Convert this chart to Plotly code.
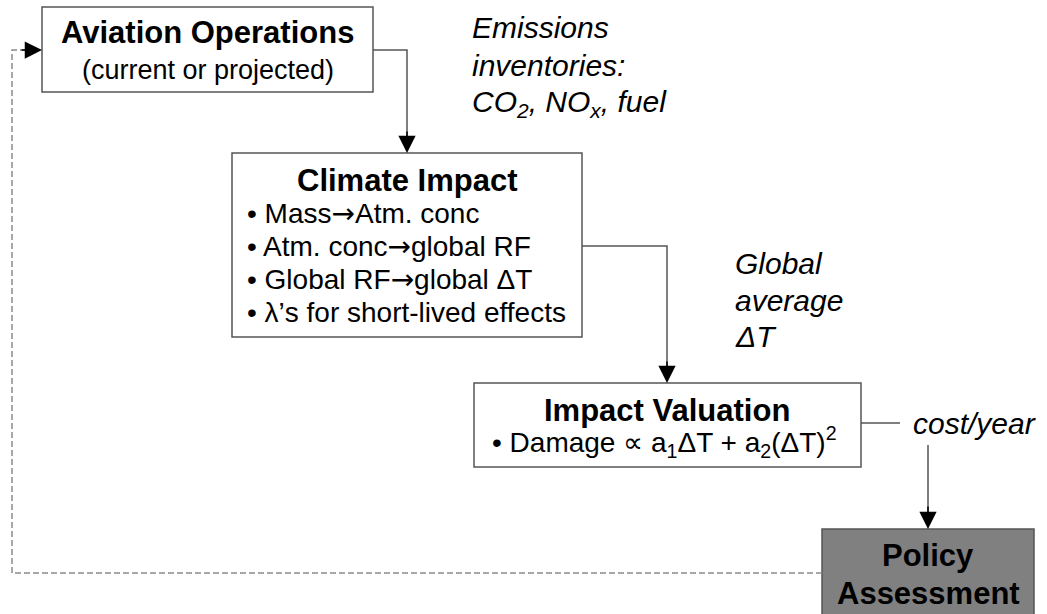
import plotly.graph_objects as go

W, H = 1047, 614
FONT = "Arial, Liberation Sans, sans-serif"
EDGE = "#555555"
DASH = "#8c8c8c"
ARROW = '<span style="font-family:DejaVu Sans">→</span>'

# boxes: x0, y0, x1, y1, fill
box_names = ["aviation", "climate", "valuation", "policy"]
box_x0 = [42, 232, 474, 822]
box_y0 = [7, 153, 383, 529]
box_x1 = [373, 582, 861, 1034]
box_y1 = [92, 337, 467, 640]
box_fill = ["white", "white", "white", "#808080"]

# text lines: text, x, y, size, anchor
texts = [
    ("<b>Aviation Operations</b>", 207.5, 32, 31, "center"),
    ("(current or projected)", 207.5, 70, 27, "center"),
    ("<i>Emissions</i>", 470, 27, 30, "left"),
    ("<i>inventories:</i>", 470, 65, 30, "left"),
    ("<i>CO<sub>2</sub>, NO<sub>x</sub>, fuel</i>", 470, 103, 30, "left"),
    ("<b>Climate Impact</b>", 407, 180, 31, "center"),
    ("• Mass" + ARROW + "Atm. conc", 245, 213, 28, "left"),
    ("• Atm. conc" + ARROW + "global RF", 245, 246, 28, "left"),
    ("• Global RF" + ARROW + "global ΔT", 245, 279, 28, "left"),
    ("• λ’s for short-lived effects", 245, 312, 28, "left"),
    ("<i>Global</i>", 733, 263, 30, "left"),
    ("<i>average</i>", 733, 300, 30, "left"),
    ("<i>ΔT</i>", 733, 336, 30, "left"),
    ("<b>Impact Valuation</b>", 667, 410, 31, "center"),
    ("• Damage ∝ a<sub>1</sub>ΔT + a<sub>2</sub>(ΔT)<sup>2</sup>", 490, 442, 28, "left"),
    ("<i>cost/year</i>", 911, 423, 30, "left"),
    ("<b>Policy</b>", 928, 555, 31, "center"),
    ("<b>Assessment</b>", 928, 593, 31, "center"),
]

# connectors: svg path, dashed?
paths = [
    ("M 373 50 H 407 V 150", False),
    ("M 582 246 H 667 V 380", False),
    ("M 861 423 H 900", False),
    ("M 928 445 V 526", False),
    ("M 822 573 H 12 V 50 H 38", True),
]
# arrow tips: (tip x, tip y, from x, from y)
arrows = [
    (407, 153, 407, 130),
    (667, 383, 667, 360),
    (928, 529, 928, 505),
    (42, 50, 20, 50),
]

fig = go.Figure()
fig.add_trace(go.Scatter(x=[0, W], y=[0, H], mode="markers",
                         marker=dict(opacity=0), hoverinfo="skip", showlegend=False))

for x0, y0, x1, y1, fill in zip(box_x0, box_y0, box_x1, box_y1, box_fill):
    fig.add_shape(type="rect", x0=x0, y0=y0, x1=x1, y1=y1,
                  line=dict(color=EDGE, width=1.5), fillcolor=fill, layer="below")

for p, dashed in paths:
    fig.add_shape(type="path", path=p,
                  line=dict(color=DASH if dashed else EDGE, width=1.5,
                            dash="6px,3px" if dashed else "solid"))

for tx, ty, fx, fy in arrows:
    fig.add_annotation(x=tx, y=ty, ax=fx, ay=fy, xref="x", yref="y",
                       axref="x", ayref="y", text="", showarrow=True,
                       arrowhead=2, arrowsize=2.3, arrowwidth=1.5,
                       arrowcolor="black", standoff=0)

for t, x, y, s, anchor in texts:
    fig.add_annotation(x=x, y=y, xref="x", yref="y", text=t, showarrow=False,
                       xanchor=anchor, yanchor="middle",
                       font=dict(family=FONT, size=s, color="black"))

fig.update_xaxes(range=[0, W], visible=False, fixedrange=True)
fig.update_yaxes(range=[H, 0], visible=False, fixedrange=True)
fig.update_layout(
    width=W, height=H,
    margin=dict(l=0, r=0, t=0, b=0),
    paper_bgcolor="white", plot_bgcolor="white",
    showlegend=False,
)

# drop the default page margin so the figure sits at the window's corner
fig.write_html("out.html", config={"displayModeBar": False},
               post_script="document.body.style.margin='0';document.body.style.overflow='hidden';")
